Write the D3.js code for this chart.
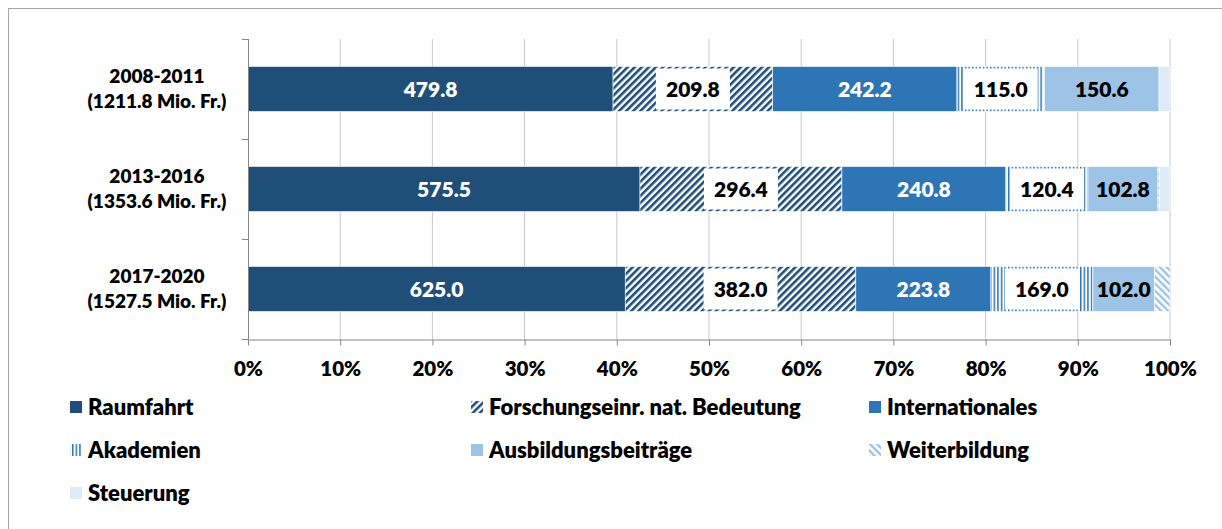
<!DOCTYPE html>
<html>
<head>
<meta charset="utf-8">
<script src="https://cdn.jsdelivr.net/npm/d3@7"></script>
<style>
  body { margin: 0; background: #fff; }
  svg text { font-family: Lato, "Open Sans", sans-serif; font-weight: 800; }
</style>
</head>
<body>
<svg width="1222" height="529"></svg>
<script>
// data
var periods = ["2008-2011", "2013-2016", "2017-2020"];
var totals = ["(1211.8 Mio. Fr.)", "(1353.6 Mio. Fr.)", "(1527.5 Mio. Fr.)"];
var seriesNames = ["Raumfahrt", "Forschungseinr. nat. Bedeutung", "Internationales",
                   "Akademien", "Ausbildungsbeiträge", "Weiterbildung", "Steuerung"];
var raumfahrt = [479.8, 575.5, 625.0];
var forschung = [209.8, 296.4, 382.0];
var internationales = [242.2, 240.8, 223.8];
var akademien = [115.0, 120.4, 169.0];
var ausbildung = [150.6, 102.8, 102.0];
var weiterbildung = [0.0, 2.0, 25.7];
var steuerung = [14.4, 15.7, 0.0];
var xTicks = [0, 0.1, 0.2, 0.3, 0.4, 0.5, 0.6, 0.7, 0.8, 0.9, 1];

var seriesValues = [raumfahrt, forschung, internationales, akademien, ausbildung, weiterbildung, steuerung];

var rows = periods.map(function(p, i) {
  var r = { period: p, total: totals[i] };
  seriesNames.forEach(function(s, j) { r[s] = seriesValues[j][i]; });
  return r;
});

var svg = d3.select("svg");

// frame
svg.append("rect")
  .attr("x", 8.5).attr("y", 8.5)
  .attr("width", 1400).attr("height", 700)
  .attr("fill", "none").attr("stroke", "#a6a6a6");

// patterns
var defs = svg.append("defs");
function stripes(id, color, size, width, angle) {
  var p = defs.append("pattern")
    .attr("id", id)
    .attr("patternUnits", "userSpaceOnUse")
    .attr("width", size).attr("height", size)
    .attr("patternTransform", "rotate(" + angle + ")");
  p.append("rect").attr("width", size).attr("height", size).attr("fill", "#fff");
  p.append("rect").attr("x", 0).attr("width", width).attr("height", size).attr("fill", color);
}
stripes("p-forschung", "#1f4e79", 5, 2.6, 45);
stripes("p-akademien", "#2e75b6", 3.6, 1.5, 0);
stripes("p-weiter", "#9dc3e6", 5, 2.4, -45);

var fills = ["#1f4e79", "url(#p-forschung)", "#2e75b6", "url(#p-akademien)",
             "#9dc3e6", "url(#p-weiter)", "#deebf7"];
var labelStyle = ["white", "box", "white", "box", "black", null, null];

var x = d3.scaleLinear().domain([0, 1]).range([248, 1170]);
var y = d3.scaleBand().domain(periods).range([39, 339]).paddingInner(0.55).paddingOuter(0.275);

// gridlines
svg.append("g")
  .selectAll("line")
  .data(xTicks.slice(1))
  .join("line")
  .attr("x1", function(d) { return x(d); }).attr("x2", function(d) { return x(d); })
  .attr("y1", 39).attr("y2", 339)
  .attr("stroke", "#c8c8c8");

var stack = d3.stack().keys(seriesNames).offset(d3.stackOffsetExpand);
var layers = stack(rows);

var g = svg.append("g");
layers.forEach(function(layer, j) {
  g.append("g").selectAll("rect")
    .data(layer)
    .join("rect")
    .attr("x", function(d) { return x(d[0]); })
    .attr("y", function(d) { return y(d.data.period); })
    .attr("width", function(d) { return Math.max(0, x(d[1]) - x(d[0])); })
    .attr("height", y.bandwidth())
    .attr("fill", fills[j])
    .attr("stroke", "#fff").attr("stroke-width", 0.6);
});

// labels
layers.forEach(function(layer, j) {
  var st = labelStyle[j];
  if (!st) return;
  layer.forEach(function(d) {
    var cx = (x(d[0]) + x(d[1])) / 2;
    var cy = y(d.data.period) + y.bandwidth() / 2;
    var segW = x(d[1]) - x(d[0]);
    var txt = d3.format(".1f")(d.data[layer.key]);
    if (st === "box") {
      var bw = Math.min(74, segW - 6);
      g.append("rect")
        .attr("x", cx - bw / 2).attr("y", y(d.data.period) + 2)
        .attr("width", bw).attr("height", y.bandwidth() - 4)
        .attr("fill", "#fff");
    }
    g.append("text")
      .attr("x", cx).attr("y", cy)
      .attr("dy", "0.36em")
      .attr("text-anchor", "middle")
      .attr("font-size", 21)
      .attr("fill", st === "white" ? "#fff" : "#000")
      .text(txt);
  });
});

// y axis
var yAxis = svg.append("g");
yAxis.append("line")
  .attr("x1", 248.5).attr("x2", 248.5).attr("y1", 39).attr("y2", 339)
  .attr("stroke", "#868686");
yAxis.selectAll(".tk")
  .data(d3.range(periods.length + 1))
  .join("line")
  .attr("x1", 242).attr("x2", 248.5)
  .attr("y1", function(i) { return y.range()[0] + i * y.step() + 0.5; })
  .attr("y2", function(i) { return y.range()[0] + i * y.step() + 0.5; })
  .attr("stroke", "#868686");
var cat = yAxis.selectAll(".cat")
  .data(rows)
  .join("text")
  .attr("text-anchor", "middle")
  .attr("font-size", 19)
  .attr("fill", "#000");
cat.append("tspan")
  .attr("x", 157)
  .attr("y", function(d) { return y(d.period) + y.bandwidth() / 2 - 13; })
  .attr("dy", "0.36em")
  .text(function(d) { return d.period; });
cat.append("tspan")
  .attr("x", 157)
  .attr("y", function(d) { return y(d.period) + y.bandwidth() / 2 + 12; })
  .attr("dy", "0.36em")
  .text(function(d) { return d.total; });

// x axis
var xAxis = svg.append("g")
  .attr("transform", "translate(0,339.5)")
  .call(d3.axisBottom(x).tickValues(xTicks).tickFormat(d3.format(".0%")).tickSize(6).tickSizeOuter(0));
xAxis.select(".domain").attr("stroke", "#868686");
xAxis.selectAll(".tick line").attr("stroke", "#868686");
xAxis.selectAll(".tick text")
  .attr("font-size", 20.5)
  .attr("font-family", "Lato, sans-serif")
  .attr("fill", "#000")
  .attr("y", 36).attr("dy", "0");

// legend
var legendCols = [70, 471, 869];
var legendRows = [407, 450, 493];
var legend = svg.append("g");
seriesNames.forEach(function(s, j) {
  var lx = legendCols[j % 3], ly = legendRows[Math.floor(j / 3)];
  legend.append("rect")
    .attr("x", lx).attr("y", ly - 6)
    .attr("width", 12).attr("height", 12)
    .attr("fill", fills[j]);
  legend.append("text")
    .attr("x", lx + 18).attr("y", ly)
    .attr("dy", "0.36em")
    .attr("font-size", 22)
    .attr("fill", "#000")
    .text(s);
});
</script>
</body>
</html>
